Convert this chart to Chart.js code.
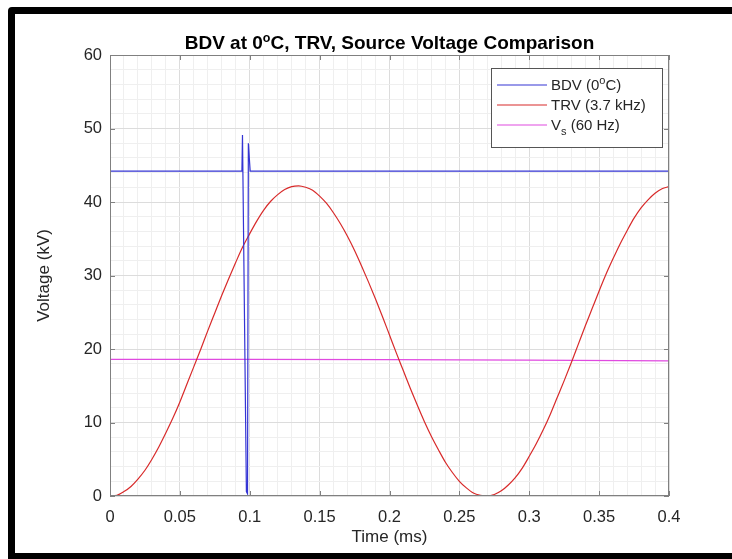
<!DOCTYPE html>
<html><head><meta charset="utf-8">
<script src="https://cdn.jsdelivr.net/npm/chart.js@4.4.0/dist/chart.umd.min.js"></script>
<style>html,body{margin:0;padding:0;background:#fff;overflow:hidden}</style>
</head><body>
<canvas id="c" width="732" height="559" style="display:block;width:732px;height:559px"></canvas>
<script>
// ---- data ----
const bdvTime   = [0, 0.0944, 0.0948, 0.0976, 0.0984, 0.0990, 0.1003, 0.4];
const bdvValues = [44.2, 44.2, 49.1, 0.6, 0.3, 48.0, 44.2, 44.2];

const trvTime = [0, 0.005, 0.01, 0.015, 0.02, 0.025, 0.03, 0.035, 0.04, 0.045,
  0.05, 0.055, 0.06, 0.065, 0.07, 0.075, 0.08, 0.085, 0.09, 0.095,
  0.1, 0.105, 0.11, 0.115, 0.12, 0.125, 0.13, 0.135, 0.14, 0.145,
  0.15, 0.155, 0.16, 0.165, 0.17, 0.175, 0.18, 0.185, 0.19, 0.195,
  0.2, 0.205, 0.21, 0.215, 0.22, 0.225, 0.23, 0.235, 0.24, 0.245,
  0.25, 0.255, 0.26, 0.265, 0.27, 0.275, 0.28, 0.285, 0.29, 0.295,
  0.3, 0.305, 0.31, 0.315, 0.32, 0.325, 0.33, 0.335, 0.34, 0.345,
  0.35, 0.355, 0.36, 0.365, 0.37, 0.375, 0.38, 0.385, 0.39, 0.395, 0.4];
const trvValues = [0, 0.1, 0.6, 1.3, 2.3, 3.5, 5.0, 6.7, 8.6, 10.6,
  12.8, 15.2, 17.6, 20.0, 22.5, 24.9, 27.3, 29.6, 31.8, 33.9,
  35.7, 37.4, 38.9, 40.1, 41.0, 41.7, 42.1, 42.2, 42.0, 41.6,
  40.8, 39.8, 38.5, 37.0, 35.3, 33.4, 31.3, 29.1, 26.8, 24.4,
  21.9, 19.4, 17.0, 14.6, 12.3, 10.1, 8.1, 6.3, 4.6, 3.2,
  2.0, 1.1, 0.4, 0.1, 0.0, 0.2, 0.7, 1.5, 2.5, 3.8,
  5.4, 7.1, 9.0, 11.1, 13.4, 15.7, 18.1, 20.6, 23.1, 25.5,
  27.9, 30.2, 32.3, 34.3, 36.1, 37.8, 39.2, 40.3, 41.2, 41.8, 42.1];

const vsTime   = [0, 0.1, 0.2, 0.3, 0.4];
const vsValues = [18.6, 18.59, 18.55, 18.48, 18.39];

const xMajorTicks = [0, 0.05, 0.1, 0.15, 0.2, 0.25, 0.3, 0.35, 0.4];
const yMajorTicks = [0, 10, 20, 30, 40, 50, 60];

const titleParts = ['BDV at 0', 'o', 'C, TRV, Source Voltage Comparison'];
const xLabel = 'Time (ms)';
const yLabel = 'Voltage (kV)';

// ---- helpers ----
const FONT = '"Liberation Sans", Arial, Helvetica, sans-serif';
const TXT = '#262626';
const toXY = (xs, ys) => xs.map((x, i) => ({x: x, y: ys[i]}));
const isMajorX = v => xMajorTicks.some(t => Math.abs(t - v) < 1e-7);
const isMajorY = v => yMajorTicks.some(t => Math.abs(t - v) < 1e-7);

const colors = {bdv: '#3434d4', trv: '#d82a2a', vs: '#e04ae0'};

const framePlugin = {
  id: 'frame',
  beforeDraw(chart) {
    const ctx = chart.ctx;
    ctx.save();
    ctx.fillStyle = '#fff';
    ctx.fillRect(0, 0, chart.width, chart.height);
    ctx.fillStyle = '#000';
    ctx.beginPath();
    ctx.roundRect(8, 7, chart.width + 20, chart.height + 20, [4]);
    ctx.rect(15, 14, chart.width, 553 - 14);
    ctx.fill('evenodd');
    ctx.restore();
  },
  afterDraw(chart) {
    const ctx = chart.ctx;
    const a = chart.chartArea;
    const xs = chart.scales.x, ys = chart.scales.y;
    ctx.save();
    // axes box
    ctx.strokeStyle = '#808080';
    ctx.lineWidth = 1;
    ctx.strokeRect(Math.round(a.left) + 0.5, Math.round(a.top) + 0.5,
                   Math.round(a.right - a.left) - 1, Math.round(a.bottom - a.top) - 1);
    // inner tick marks
    ctx.beginPath();
    xMajorTicks.forEach(v => {
      const px = Math.round(xs.getPixelForValue(v)) + 0.5;
      ctx.moveTo(px, a.bottom); ctx.lineTo(px, a.bottom - 5);
      ctx.moveTo(px, a.top); ctx.lineTo(px, a.top + 5);
    });
    yMajorTicks.forEach(v => {
      const py = Math.round(ys.getPixelForValue(v)) + 0.5;
      ctx.moveTo(a.left, py); ctx.lineTo(a.left + 5, py);
      ctx.moveTo(a.right, py); ctx.lineTo(a.right - 5, py);
    });
    ctx.stroke();

    // title with superscript
    const tf = 'bold 19px ' + FONT, sf = 'bold 12.5px ' + FONT;
    ctx.fillStyle = '#000';
    ctx.textBaseline = 'alphabetic';
    ctx.font = tf; const w1 = ctx.measureText(titleParts[0]).width;
    const w3 = ctx.measureText(titleParts[2]).width;
    ctx.font = sf; const w2 = ctx.measureText(titleParts[1]).width;
    let tx = (a.left + a.right) / 2 - (w1 + w2 + w3) / 2;
    const ty = a.top - 6;
    ctx.textAlign = 'left';
    ctx.font = tf; ctx.fillText(titleParts[0], tx, ty); tx += w1;
    ctx.font = sf; ctx.fillText(titleParts[1], tx, ty - 7); tx += w2;
    ctx.font = tf; ctx.fillText(titleParts[2], tx, ty);

    // legend
    const lx = a.right - 178, ly = a.top + 13, lw = 171, lh = 79;
    ctx.fillStyle = '#fff';
    ctx.fillRect(lx, ly, lw, lh);
    ctx.strokeStyle = '#555';
    ctx.strokeRect(lx + 0.5, ly + 0.5, lw, lh);
    const nf = '15px ' + FONT, smf = '11px ' + FONT;
    const rows = [
      {c: chart.data.datasets[0].borderColor, parts: [['BDV (0', nf, 0], ['o', smf, -6], ['C)', nf, 0]]},
      {c: chart.data.datasets[1].borderColor, parts: [['TRV (3.7 kHz)', nf, 0]]},
      {c: chart.data.datasets[2].borderColor, parts: [['V', nf, 0], ['s', smf, 5], [' (60 Hz)', nf, 0]]}
    ];
    rows.forEach((r, i) => {
      const cy = ly + 17 + i * 20;
      ctx.strokeStyle = r.c; ctx.lineWidth = 1.2;
      ctx.beginPath(); ctx.moveTo(lx + 6, cy); ctx.lineTo(lx + 56, cy); ctx.stroke();
      let x = lx + 60;
      ctx.fillStyle = TXT; ctx.textBaseline = 'alphabetic';
      r.parts.forEach(p => {
        ctx.font = p[1];
        ctx.fillText(p[0], x, cy + 5 + p[2]);
        x += ctx.measureText(p[0]).width;
      });
    });
    ctx.restore();
  }
};

new Chart(document.getElementById('c'), {
  type: 'line',
  data: {
    datasets: [
      {label: 'BDV', data: toXY(bdvTime, bdvValues), borderColor: colors.bdv, borderWidth: 1.2, pointRadius: 0, tension: 0},
      {label: 'TRV', data: toXY(trvTime, trvValues), borderColor: colors.trv, borderWidth: 1.2, pointRadius: 0, cubicInterpolationMode: 'monotone'},
      {label: 'Vs',  data: toXY(vsTime, vsValues),   borderColor: colors.vs,  borderWidth: 1.2, pointRadius: 0, tension: 0}
    ]
  },
  options: {
    responsive: false,
    animation: false,
    devicePixelRatio: 1,
    layout: {padding: {left: 10, right: 63, top: 55, bottom: 0}},
    plugins: {legend: {display: false}, title: {display: false}, tooltip: {enabled: false}},
    scales: {
      x: {
        type: 'linear', min: 0, max: 0.4,
        afterFit(s) { s.height = 63; },
        border: {display: false},
        grid: {drawTicks: false, lineWidth: 1,
               color: c => (c.tick && isMajorX(c.tick.value)) ? '#dcdcdc' : '#efefef'},
        ticks: {stepSize: 0.01, autoSkip: false, maxRotation: 0, padding: 12, color: TXT,
                font: {family: FONT, size: 16.5},
                callback: v => isMajorX(v) ? String(Math.round(v * 100) / 100) : ''},
        title: {display: true, text: xLabel, color: TXT, font: {family: FONT, size: 17}, padding: {top: 0, bottom: 11}}
      },
      y: {
        type: 'linear', min: 0, max: 60,
        afterFit(s) { s.width = 100; },
        border: {display: false},
        grid: {drawTicks: false, lineWidth: 1,
               color: c => (c.tick && isMajorY(c.tick.value)) ? '#dcdcdc' : '#efefef'},
        ticks: {stepSize: 2, autoSkip: false, padding: 8, color: TXT,
                font: {family: FONT, size: 16.5},
                callback: v => isMajorY(v) ? String(v) : ''},
        title: {display: true, text: yLabel, color: TXT, font: {family: FONT, size: 17}, padding: {top: 24, bottom: 0}}
      }
    }
  },
  plugins: [framePlugin]
});
</script>
</body></html>
